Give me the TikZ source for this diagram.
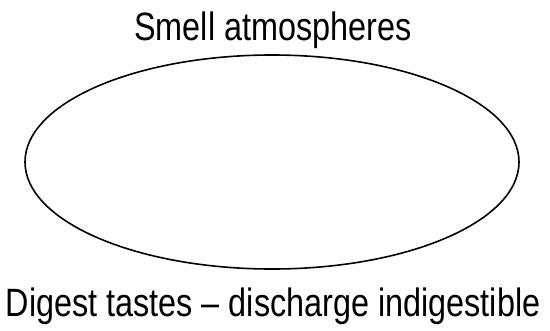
\documentclass[tikz,border=0pt]{standalone}
\usepackage{fontspec}
\setmainfont{Liberation Sans}[FakeStretch=0.82]
\usetikzlibrary{shapes.geometric}
\begin{document}
\begin{tikzpicture}[x=1bp,y=-1bp,
  lbl/.style={inner sep=0pt,anchor=base,font=\fontsize{39.5bp}{44bp}\selectfont}]
\useasboundingbox (0,0) rectangle (550,330);
\node[draw,line width=1.6bp,ellipse,minimum width=494bp,minimum height=214bp,inner sep=0pt] (e) at (272,162) {};
\node[lbl] (top) at (273,40) {Smell atmospheres};
\node[lbl] (bot) at (273,316) {Digest tastes -- discharge indigestible};
\end{tikzpicture}
\end{document}
